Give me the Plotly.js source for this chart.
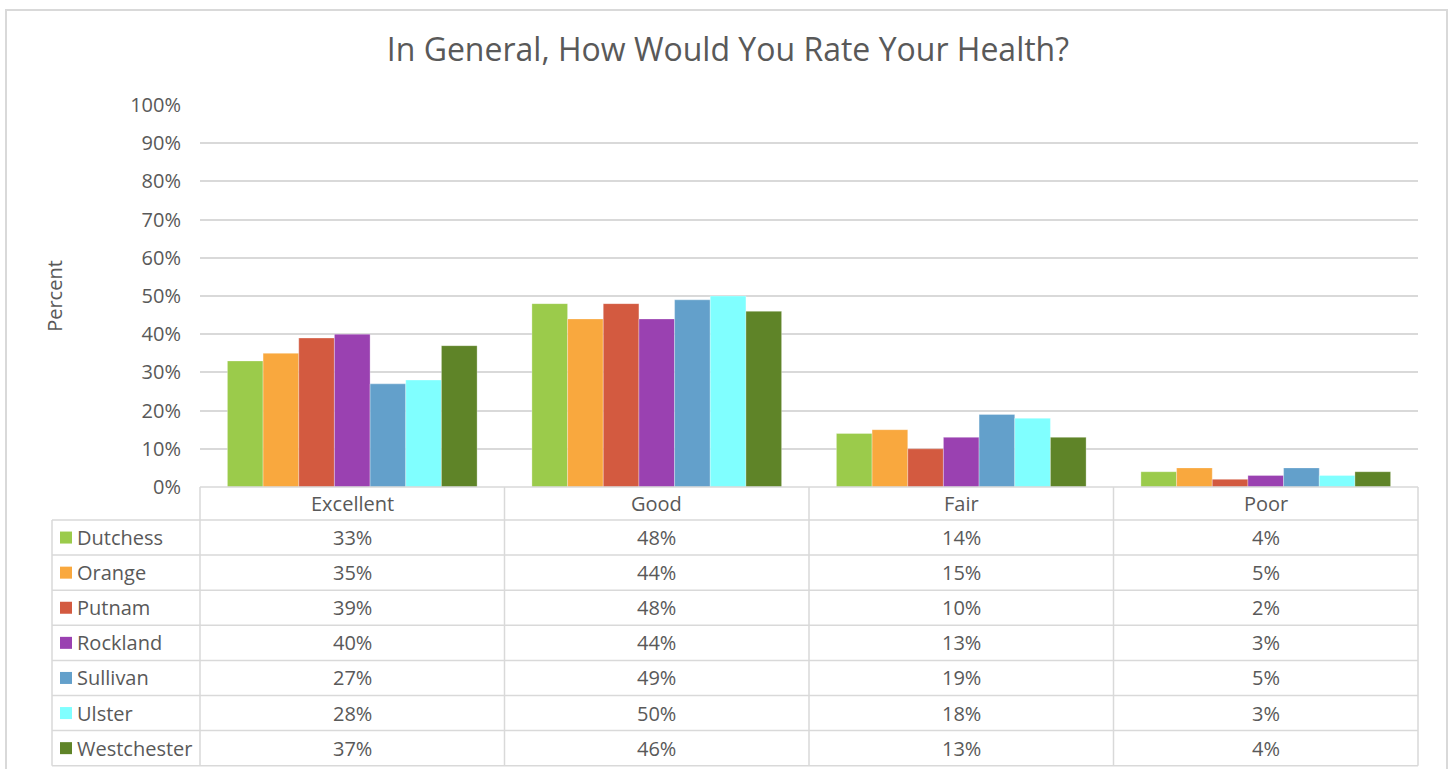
<!DOCTYPE html>
<html>
<head>
<meta charset="utf-8">
<script src="https://cdn.plot.ly/plotly-3.0.1.min.js"></script>
<style>html,body{margin:0;padding:0;background:#fff;}#chart{width:1450px;height:769px;}</style>
</head>
<body>
<div id="chart"></div>
<script>
// ---- data ----
const categories = ['Excellent', 'Good', 'Fair', 'Poor'];
const counties = ['Dutchess', 'Orange', 'Putnam', 'Rockland', 'Sullivan', 'Ulster', 'Westchester'];
const dutchess = [33, 48, 14, 4];
const orange = [35, 44, 15, 5];
const putnam = [39, 48, 10, 2];
const rockland = [40, 44, 13, 3];
const sullivan = [27, 49, 19, 5];
const ulster = [28, 50, 18, 3];
const westchester = [37, 46, 13, 4];
const yTickValues = [0, 10, 20, 30, 40, 50, 60, 70, 80, 90, 100];
const yTickLabels = ['0%', '10%', '20%', '30%', '40%', '50%', '60%', '70%', '80%', '90%', '100%'];

const seriesValues = [dutchess, orange, putnam, rockland, sullivan, ulster, westchester];
const colors = ['#9BCB4B', '#F9A83E', '#D35A40', '#9A41B1', '#63A0CB', '#80FFFF', '#5F8428'];

// ---- layout geometry (pixels) ----
const W = 1450, H = 769;
const FONT = '"Open Sans", sans-serif';
const TXT = '#595959';
const px = x => x / W;
const py = y => 1 - y / H;
const plotL = 200, plotR = 1418, plotT = 105, plotB = 487;
const tableL = 52;
const headerB = 520;
const rowH = 35.1;
const colW = (plotR - plotL) / categories.length;
const FS = 20;

const traces = counties.map((name, i) => ({
  type: 'bar',
  name: name,
  x: categories,
  y: seriesValues[i],
  marker: {color: colors[i], line: {color: 'rgba(255,255,255,0.5)', width: 0.6}},
  hoverinfo: 'x+y+name'
}));

const shapes = [];
const annotations = [];
const lineStyle = {color: '#D9D9D9', width: 1.5};

// outer border
shapes.push({type: 'rect', xref: 'paper', yref: 'paper', x0: px(6), x1: px(1447), y0: py(10), y1: py(790), line: {color: '#D9D9D9', width: 2}});

const tableB = headerB + rowH * counties.length;
// horizontal table lines
shapes.push({type: 'line', xref: 'paper', yref: 'paper', x0: px(plotL), x1: px(plotR), y0: py(plotB), y1: py(plotB), line: lineStyle});
for (let r = 0; r <= counties.length; r++) {
  const y = headerB + r * rowH;
  shapes.push({type: 'line', xref: 'paper', yref: 'paper', x0: px(tableL), x1: px(plotR), y0: py(y), y1: py(y), line: lineStyle});
}
// vertical table lines
shapes.push({type: 'line', xref: 'paper', yref: 'paper', x0: px(tableL), x1: px(tableL), y0: py(headerB), y1: py(tableB), line: lineStyle});
for (let c = 0; c <= categories.length; c++) {
  const x = plotL + c * colW;
  shapes.push({type: 'line', xref: 'paper', yref: 'paper', x0: px(x), x1: px(x), y0: py(plotB), y1: py(tableB), line: lineStyle});
}

// header labels
categories.forEach((cat, c) => {
  annotations.push({xref: 'paper', yref: 'paper', x: px(plotL + (c + 0.5) * colW), y: py((plotB + headerB) / 2),
    text: cat, showarrow: false, xanchor: 'center', yanchor: 'middle', font: {family: FONT, size: FS, color: TXT}});
});
// rows
counties.forEach((name, r) => {
  const yc = headerB + (r + 0.5) * rowH;
  shapes.push({type: 'rect', xref: 'paper', yref: 'paper', x0: px(60), x1: px(72), y0: py(yc - 6), y1: py(yc + 6), fillcolor: colors[r], line: {width: 0}});
  annotations.push({xref: 'paper', yref: 'paper', x: px(75), y: py(yc), text: name, showarrow: false,
    xanchor: 'left', yanchor: 'middle', font: {family: FONT, size: FS, color: TXT}});
  seriesValues[r].forEach((v, c) => {
    annotations.push({xref: 'paper', yref: 'paper', x: px(plotL + (c + 0.5) * colW), y: py(yc), text: v + '%', showarrow: false,
      xanchor: 'center', yanchor: 'middle', font: {family: FONT, size: FS, color: TXT}});
  });
});

const layout = {
  width: W, height: H,
  margin: {l: 0, r: 0, t: 0, b: 0},
  paper_bgcolor: '#fff', plot_bgcolor: '#fff',
  title: {text: 'In General, How Would You Rate Your Health?', x: 0.502, xanchor: 'center', y: py(50), yanchor: 'middle',
    font: {family: FONT, size: 32, color: TXT}},
  showlegend: false,
  barmode: 'group', bargap: 0.18, bargroupgap: 0,
  xaxis: {domain: [px(plotL), px(plotR)], showticklabels: false, showgrid: false, zeroline: false, showline: false, fixedrange: true},
  yaxis: {domain: [py(plotB), py(plotT)], range: [0, 100], tickmode: 'array', tickvals: yTickValues, ticktext: yTickLabels,
    showgrid: true, gridcolor: '#D9D9D9', gridwidth: 1.5, zeroline: false, showline: false,
    ticks: 'outside', ticklen: 14, tickcolor: 'rgba(0,0,0,0)',
    tickfont: {family: FONT, size: FS, color: TXT},
    title: {text: 'Percent', standoff: 62, font: {family: FONT, size: FS, color: TXT}}, automargin: false},
  shapes: shapes,
  annotations: annotations
};

Plotly.newPlot('chart', traces, layout, {displayModeBar: false});
</script>
</body>
</html>
